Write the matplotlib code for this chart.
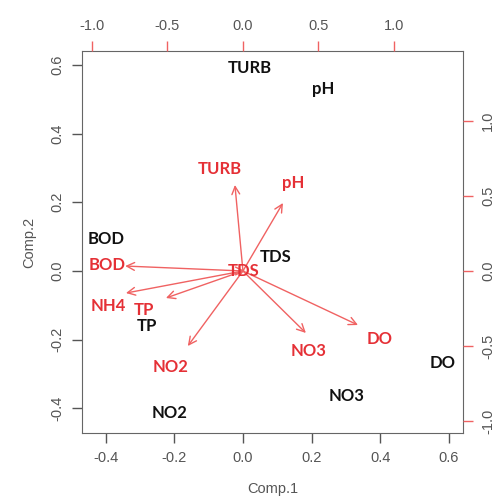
import matplotlib.pyplot as plt

plt.rcParams['font.family'] = ['Liberation Sans', 'DejaVu Sans']

# scores (black labels, bottom/left axes)
score_names = ['TURB', 'pH', 'BOD', 'TDS', 'TP', 'NO2', 'NO3', 'DO']
score_x = [0.02, 0.233, -0.40, 0.096, -0.28, -0.213, 0.303, 0.583]
score_y = [0.59, 0.53, 0.093, 0.04, -0.16, -0.414, -0.364, -0.268]

# loadings (red arrows, top/right axes)
var_names = ['TURB', 'pH', 'BOD', 'TDS', 'NH4', 'TP', 'NO2', 'NO3', 'DO']
load_x = [-0.053, 0.265, -0.78, 0.013, -0.775, -0.51, -0.365, 0.417, 0.762]
load_y = [0.573, 0.453, 0.033, 0.0, -0.147, -0.18, -0.50, -0.413, -0.36]
lab_x = [-0.152, 0.33, -0.90, 0.007, -0.89, -0.656, -0.477, 0.437, 0.907]
lab_y = [0.68, 0.587, 0.04, 0.0, -0.233, -0.26, -0.64, -0.533, -0.453]

grey = '#555555'
red_txt = '#e53036'
red_arrow = '#f06262'

fig = plt.figure(figsize=(4.94, 5.03), dpi=100)
pos = [0.166, 0.139, 0.771, 0.760]
ax = fig.add_axes(pos)
ax.set_xlim(-0.469, 0.641)
ax.set_ylim(-0.472, 0.641)
for s in ax.spines.values():
    s.set_color('#666666')
ax.set_xticks([-0.4, -0.2, 0.0, 0.2, 0.4, 0.6])
ax.set_yticks([-0.4, -0.2, 0.0, 0.2, 0.4, 0.6])
ax.set_xticklabels(['-0.4', '-0.2', '0.0', '0.2', '0.4', '0.6'])
ax.set_yticklabels(['-0.4', '-0.2', '0.0', '0.2', '0.4', '0.6'], rotation=90, va='center')
ax.tick_params(colors=grey, labelsize=10.5, length=7, width=1, labelcolor=grey, pad=6)
ax.set_xlabel('Comp.1', color=grey, fontsize=10.5, labelpad=12)
ax.set_ylabel('Comp.2', color=grey, fontsize=10.5, labelpad=10)

for n, x, y in zip(score_names, score_x, score_y):
    ax.text(x, y, n, ha='center', va='center', fontsize=12, fontweight='bold',
            family='Lato', color='#111111')

ax2 = fig.add_axes(pos, frameon=False)
ax2.set_xlim(-1.066, 1.457)
ax2.set_ylim(-1.08, 1.467)
ax2.xaxis.tick_top()
ax2.yaxis.tick_right()
ax2.set_xticks([-1.0, -0.5, 0.0, 0.5, 1.0])
ax2.set_yticks([-1.0, -0.5, 0.0, 0.5, 1.0])
ax2.set_xticklabels(['-1.0', '-0.5', '0.0', '0.5', '1.0'])
ax2.set_yticklabels(['-1.0', '-0.5', '0.0', '0.5', '1.0'], rotation=90, va='center')
ax2.tick_params(colors=red_arrow, labelcolor=grey, labelsize=10.5, length=7, width=1, pad=6)

for x, y in zip(load_x, load_y):
    ax2.annotate('', xy=(x, y), xytext=(0, 0),
                 arrowprops=dict(arrowstyle='->', color=red_arrow, lw=1,
                                 mutation_scale=14, shrinkA=0, shrinkB=0))
for n, x, y in zip(var_names, lab_x, lab_y):
    ax2.text(x, y, n, ha='center', va='center', fontsize=12, fontweight='bold',
             family='Lato', color=red_txt)

fig.savefig('out.png', dpi=100)
